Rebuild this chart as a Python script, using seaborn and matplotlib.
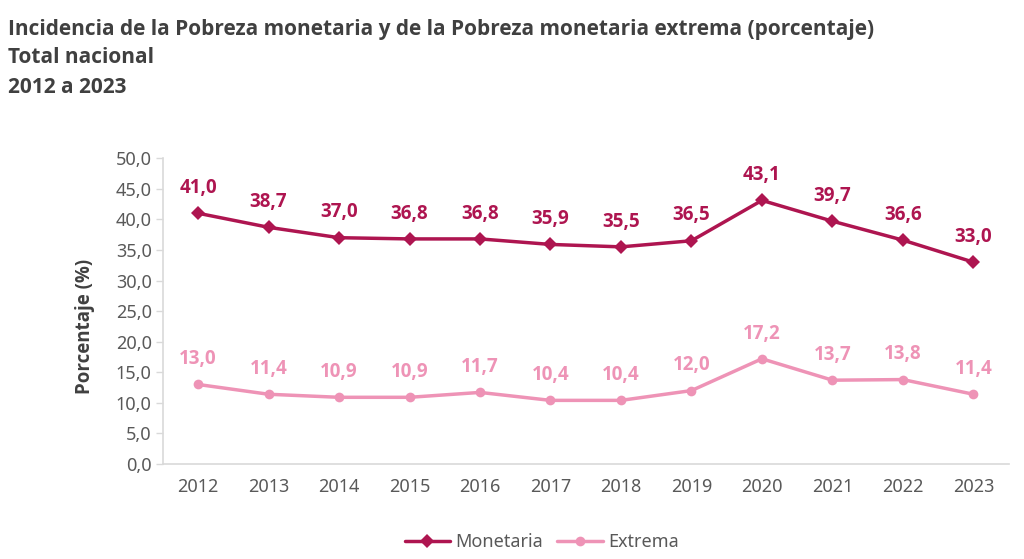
import matplotlib
matplotlib.use("Agg")
import matplotlib.pyplot as plt
import seaborn as sns
import pandas as pd

years = [2012, 2013, 2014, 2015, 2016, 2017, 2018, 2019, 2020, 2021, 2022, 2023]
monetaria = [41.0, 38.7, 37.0, 36.8, 36.8, 35.9, 35.5, 36.5, 43.1, 39.7, 36.6, 33.0]
extrema = [13.0, 11.4, 10.9, 10.9, 11.7, 10.4, 10.4, 12.0, 17.2, 13.7, 13.8, 11.4]
yticks = [0, 5, 10, 15, 20, 25, 30, 35, 40, 45, 50]

c_mon = "#AE1550"
c_ext = "#EE93B6"
gray_txt = "#595959"
BOLD = ['Open Sans', 'DejaVu Sans']

sns.set_theme(style="white")
plt.rcParams['font.family'] = ['Noto Sans', 'DejaVu Sans']

df = pd.DataFrame({"Año": years * 2,
                   "Valor": monetaria + extrema,
                   "Serie": ["Monetaria"] * len(years) + ["Extrema"] * len(years)})

fig = plt.figure(figsize=(10.24, 5.59), dpi=100)
ax = fig.add_axes([0.159, 0.170, 0.826, 0.547])

sns.lineplot(data=df, x="Año", y="Valor", hue="Serie", style="Serie",
             palette={"Monetaria": c_mon, "Extrema": c_ext},
             markers={"Monetaria": "D", "Extrema": "o"}, dashes=False,
             markersize=7, linewidth=2.5, markeredgewidth=0, ax=ax, legend=True)

for x, y in zip(years, monetaria):
    ax.annotate(f"{y:.1f}".replace(".", ","), (x, y), xytext=(0, 11), textcoords="offset points",
                ha="center", va="bottom", fontsize=13.5, fontweight="bold", color=c_mon, family=BOLD)
for x, y in zip(years, extrema):
    ax.annotate(f"{y:.1f}".replace(".", ","), (x, y), xytext=(0, 11), textcoords="offset points",
                ha="center", va="bottom", fontsize=13.5, fontweight="bold", color=c_ext, family=BOLD)

ax.set_xlim(2011.5, 2023.5)
ax.set_ylim(0, 50)
ax.set_yticks(yticks)
ax.set_yticklabels([f"{v:.1f}".replace(".", ",") for v in yticks])
ax.set_xticks(years)
ax.set_xticklabels([str(y) for y in years])
ax.tick_params(axis="y", colors="#D9D9D9", labelcolor=gray_txt, labelsize=13, length=5, width=1, left=True, pad=3)
ax.tick_params(axis="x", labelcolor=gray_txt, labelsize=13, length=0, pad=10)
for s in ["top", "right"]:
    ax.spines[s].set_visible(False)
for s in ["left", "bottom"]:
    ax.spines[s].set_color("#D9D9D9")
    ax.spines[s].set_linewidth(1.2)
ax.grid(False)
ax.set_xlabel("")
ax.set_ylabel("Porcentaje (%)", fontsize=13.5, fontweight="bold", color="#404040", family=BOLD,
              va="center", ha="center")
ax.yaxis.set_label_coords(-0.092, 0.45)

handles, labels = ax.get_legend_handles_labels()
order = [labels.index("Monetaria"), labels.index("Extrema")]
ax.legend([handles[i] for i in order], [labels[i] for i in order],
          loc="center", bbox_to_anchor=(0.529, 0.030), bbox_transform=fig.transFigure,
          ncol=2, frameon=False, fontsize=13, labelcolor=gray_txt,
          handlelength=2.5, columnspacing=0.8, handletextpad=0.3)

title_kw = dict(fontsize=15, fontweight="bold", color="#404040", ha="left", va="center", family=BOLD)
fig.text(0.008, 0.948, "Incidencia de la Pobreza monetaria y de la Pobreza monetaria extrema (porcentaje)", **title_kw)
fig.text(0.008, 0.897, "Total nacional", **title_kw)
fig.text(0.008, 0.844, "2012 a 2023", **title_kw)

fig.savefig("out.png", dpi=100)
